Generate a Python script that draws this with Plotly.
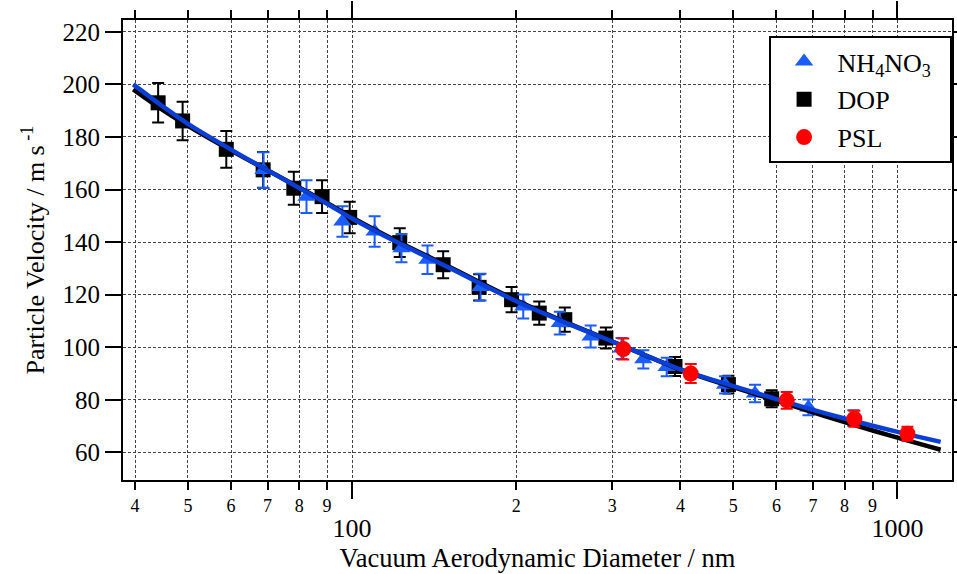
import plotly.graph_objects as go

# ---------------- data ----------------
dop_d = [44.1, 48.9, 58.8, 68.7, 78.2, 88.1, 99.0, 122.3, 146.9, 171.0, 196.1, 220.4, 245.5, 292.0, 390.9, 489.8, 588.0]
dop_v = [193.0, 186.1, 175.3, 167.5, 160.5, 157.3, 149.4, 139.8, 131.4, 122.8, 118.1, 113.0, 110.5, 103.5, 92.7, 85.8, 80.4]
dop_e = [7.5, 7.3, 7.0, 6.8, 6.3, 6.2, 6.0, 5.5, 5.1, 5.0, 4.8, 4.4, 4.6, 4.0, 3.6, 3.4, 3.2]

nh4_d = [68.8, 82.5, 96.0, 110.0, 123.2, 137.5, 172.0, 206.0, 240.4, 273.8, 312.0, 342.0, 377.5, 483.0, 548.0, 686.7, 830.0]
nh4_v = [167.4, 157.3, 147.8, 144.0, 137.7, 133.3, 122.9, 115.5, 109.2, 104.1, 99.5, 95.4, 92.5, 85.7, 82.4, 77.1, 73.0]
nh4_e = [6.8, 6.2, 5.8, 5.8, 5.4, 5.4, 5.1, 4.6, 4.3, 4.2, 4.0, 3.5, 3.5, 3.3, 3.3, 3.0, 3.0]

psl_d = [314.3, 417.8, 626.6, 833.7, 1043.0]
psl_v = [99.3, 90.0, 79.8, 72.8, 67.1]
psl_e = [4.0, 3.6, 3.2, 3.0, 2.7]

fit_d = [39.7, 45, 50, 60, 70, 80, 90, 100, 120, 150, 200, 250, 300, 400, 500, 600, 700, 800, 1000, 1200]
fit_nh4 = [200.0, 191.6, 185.0, 175.2, 167.3, 160.6, 154.6, 149.0, 140.3, 130.4, 117.5, 108.8, 102.2, 91.6, 85.2, 80.3, 76.2, 72.9, 67.8, 64.0]
fit_dop = [198.1, 190.2, 184.2, 174.8, 167.3, 160.8, 154.9, 149.4, 140.7, 130.8, 117.9, 109.0, 102.2, 91.5, 84.8, 79.7, 75.2, 71.5, 65.6, 61.0]

minor_ticks = [40, 50, 60, 70, 80, 90, 200, 300, 400, 500, 600, 700, 800, 900]
minor_text = ["4", "5", "6", "7", "8", "9", "2", "3", "4", "5", "6", "7", "8", "9"]
major_ticks = [100, 1000]
major_text = ["100", "1000"]
y_ticks = [60, 80, 100, 120, 140, 160, 180, 200, 220]

# ---------------- styles ----------------
FONT = "Liberation Serif"
BLUE_M = "#1A5CFF"
BLUE_L = "#0A3ED6"
RED = "#FF0000"
GRID = "#444444"
X_RANGE = [1.58, 3.1]
Y_RANGE = [49.5, 224.5]

fig = go.Figure()

fig.add_trace(go.Scatter(
    x=dop_d, y=dop_v, mode="markers", name="DOP", legendrank=2, legendgroup="b",
    marker=dict(symbol="square", size=15, color="black"),
    error_y=dict(type="data", array=dop_e, color="black", thickness=2, width=6),
))
fig.add_trace(go.Scatter(
    x=nh4_d, y=nh4_v, mode="markers", name="NH<sub>4</sub>NO<sub>3</sub>&nbsp;&nbsp;",
    legendrank=1, legendgroup="a",
    marker=dict(symbol="triangle-up", size=16, color=BLUE_M),
    error_y=dict(type="data", array=nh4_e, color=BLUE_M, thickness=2, width=6),
))
fig.add_trace(go.Scatter(
    x=fit_d, y=fit_dop, mode="lines", showlegend=False, hoverinfo="skip",
    line=dict(color="black", width=4.5, shape="spline"),
))
fig.add_trace(go.Scatter(
    x=fit_d, y=fit_nh4, mode="lines", showlegend=False, hoverinfo="skip",
    line=dict(color=BLUE_L, width=4.5, shape="spline"),
))
fig.add_trace(go.Scatter(
    x=psl_d, y=psl_v, mode="markers", name="PSL", legendrank=3, legendgroup="c",
    marker=dict(symbol="circle", size=16, color=RED),
    error_y=dict(type="data", array=psl_e, color=RED, thickness=2, width=6),
))
# placeholder trace so the overlaying major-tick axis is drawn
fig.add_trace(go.Scatter(x=[100], y=[None], xaxis="x2", mode="markers",
                         showlegend=False, hoverinfo="skip"))

common_x = dict(
    type="log", range=X_RANGE, showline=True, linecolor="black", linewidth=2,
    mirror="ticks", ticks="outside", tickcolor="black", tickwidth=2, automargin=False,
    showgrid=True, gridcolor=GRID, gridwidth=1, griddash="3px,2px", zeroline=False,
)

fig.update_layout(
    width=957, height=574,
    margin=dict(l=123, r=5, t=20, b=94, autoexpand=False),
    paper_bgcolor="white", plot_bgcolor="white",
    font=dict(family=FONT, color="black"),
    showlegend=True,
    legend=dict(
        x=0.9995, xanchor="right", y=0.965, yanchor="top",
        bgcolor="white", bordercolor="black", borderwidth=2,
        font=dict(family=FONT, size=26, color="black"),
        itemwidth=57, tracegroupgap=1,
    ),
    xaxis=dict(
        **common_x, tickmode="array", tickvals=minor_ticks, ticktext=minor_text,
        ticklen=8, tickfont=dict(family=FONT, size=18, color="black"),
    ),
    xaxis2=dict(
        **common_x, overlaying="x", anchor="y", side="bottom",
        tickmode="array", tickvals=major_ticks, ticktext=major_text,
        ticklen=17, ticklabelstandoff=7,
        tickfont=dict(family=FONT, size=26, color="black"),
        title=dict(text="Vacuum Aerodynamic Diameter / nm", standoff=4,
                   font=dict(family=FONT, size=26.5, color="black")),
    ),
    yaxis=dict(
        range=Y_RANGE, tickmode="array", tickvals=y_ticks, automargin=False,
        showline=True, linecolor="black", linewidth=2, mirror="ticks",
        ticks="outside", ticklen=16, tickwidth=2, tickcolor="black",
        tickfont=dict(family=FONT, size=25, color="black"),
        showgrid=True, gridcolor=GRID, gridwidth=1, griddash="3px,2px", zeroline=False,
        title=dict(text="Particle Velocity / m s<sup> -1</sup>", standoff=10,
                   font=dict(family=FONT, size=26, color="black")),
    ),
)

fig.write_html("out.html")
